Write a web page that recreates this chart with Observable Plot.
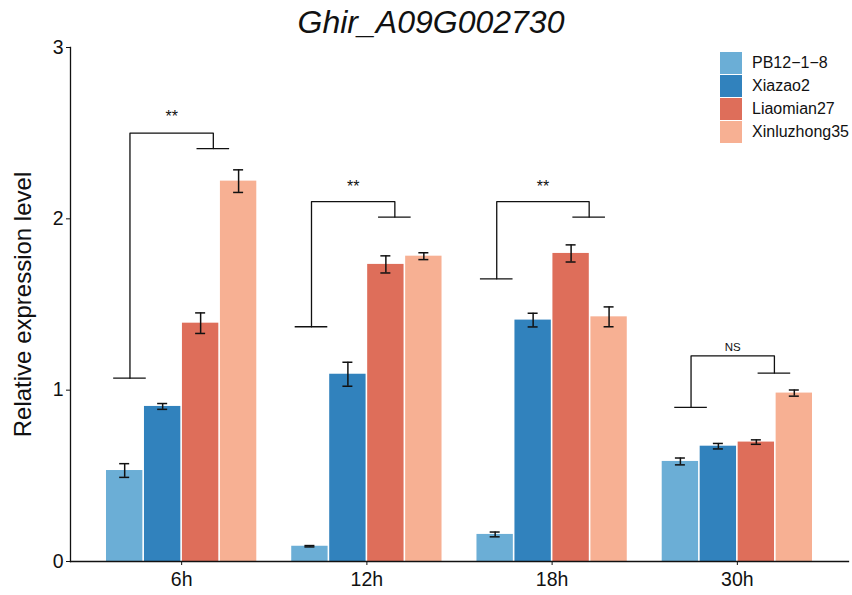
<!DOCTYPE html>
<html><head><meta charset="utf-8">
<script src="https://cdn.jsdelivr.net/npm/d3@7"></script>
<script src="https://cdn.jsdelivr.net/npm/@observablehq/plot@0.6"></script>
<style>
body{margin:0;background:#fff;font-family:"Liberation Sans",Arial,sans-serif;}
#wrap{position:relative;width:852px;height:595px;overflow:hidden;}
#title{height:40px;line-height:44px;font-size:32px;font-style:italic;text-align:center;padding-left:10px;color:#111;}
#legend{position:absolute;left:720px;top:51px;}
.row{display:flex;align-items:center;height:23px;}
.sw{width:22px;height:22px;margin-right:10px;}
.lab{font-size:16px;color:#111;}
</style></head><body>
<div id="wrap"><div id="title">Ghir_A09G002730</div><div id="chart"></div><div id="legend"></div></div>
<script>
// ---- data ----
const times = ["6h", "12h", "18h", "30h"];
const genotypes = ["PB12\u22121\u22128", "Xiazao2", "Liaomian27", "Xinluzhong35"];
const colors = ["#6BAED6", "#3182BD", "#DE6E5A", "#F7B093"];

const pb12 = [0.531, 0.089, 0.158, 0.584];
const xiazao2 = [0.905, 1.093, 1.409, 0.673];
const liaomian27 = [1.391, 1.734, 1.798, 0.697];
const xinluzhong35 = [2.220, 1.782, 1.428, 0.983];

const pb12Err = [0.040, 0.004, 0.014, 0.020];
const xiazao2Err = [0.017, 0.070, 0.040, 0.016];
const liaomian27Err = [0.060, 0.050, 0.050, 0.013];
const xinluzhong35Err = [0.066, 0.020, 0.058, 0.018];

// significance brackets (x offsets relative to group centre, in group units)
const bracketLeftX = [-0.279, -0.299, -0.299, -0.250];
const bracketRightX = [0.171, 0.151, 0.200, 0.200];
const bracketLeftY = [1.07, 1.37, 1.65, 0.90];
const bracketTopY = [2.50, 2.10, 2.10, 1.20];
const bracketRightY = [2.41, 2.01, 2.01, 1.10];
const bracketLabels = ["**", "**", "**", "NS"];
const bracketLabelY = [2.593, 2.189, 2.189, 1.251];

const yTicks = [0, 1, 2, 3];

// ---- build tables ----
const values = [pb12, xiazao2, liaomian27, xinluzhong35];
const errors = [pb12Err, xiazao2Err, liaomian27Err, xinluzhong35Err];
const groupWidth = 0.82;
const barW = groupWidth / genotypes.length;
const capHalf = 0.027;
const hookHalf = 0.088;

const rows = [];
times.forEach((t, ti) => genotypes.forEach((g, gi) => {
  const x1 = ti - groupWidth / 2 + gi * barW;
  rows.push({time: t, genotype: g, value: values[gi][ti], err: errors[gi][ti],
             x1, x2: x1 + barW, xc: x1 + barW / 2});
}));

const bracketPts = [];
const hooks = [];
const labels = [];
times.forEach((t, ti) => {
  const L = ti + bracketLeftX[ti], R = ti + bracketRightX[ti];
  bracketPts.push({time: t, x: L, y: bracketLeftY[ti]}, {time: t, x: L, y: bracketTopY[ti]},
                  {time: t, x: R, y: bracketTopY[ti]}, {time: t, x: R, y: bracketRightY[ti]});
  hooks.push({xc: L, y: bracketLeftY[ti]}, {xc: R, y: bracketRightY[ti]});
  labels.push({x: (L + R) / 2, y: bracketLabelY[ti], text: bracketLabels[ti]});
});

const chart = Plot.plot({
  width: 852,
  height: 555,
  marginTop: 7,
  marginBottom: 34,
  marginLeft: 70,
  marginRight: 4,
  style: {fontFamily: "'Liberation Sans', Arial, sans-serif", color: "#111", overflow: "visible", background: "white"},
  x: {domain: [-0.6, 3.6], axis: null},
  y: {domain: [0, 3], axis: null},
  color: {domain: genotypes, range: colors},
  marks: [
    Plot.rectY(rows, {x1: "x1", x2: "x2", y1: 0, y2: "value", fill: "genotype", insetLeft: 0.8, insetRight: 0.8}),
    Plot.ruleX(rows, {x: "xc", y1: d => d.value - d.err, y2: d => d.value + d.err, stroke: "#111", strokeWidth: 1.5}),
    Plot.ruleY(rows, {y: d => d.value + d.err, x1: d => d.xc - capHalf, x2: d => d.xc + capHalf, stroke: "#111", strokeWidth: 1.5}),
    Plot.ruleY(rows, {y: d => d.value - d.err, x1: d => d.xc - capHalf, x2: d => d.xc + capHalf, stroke: "#111", strokeWidth: 1.5}),
    Plot.line(bracketPts, {x: "x", y: "y", z: "time", stroke: "#111", strokeWidth: 1.3, curve: "linear"}),
    Plot.ruleY(hooks, {y: "y", x1: d => d.xc - hookHalf, x2: d => d.xc + hookHalf, stroke: "#111", strokeWidth: 1.3}),
    Plot.text(labels, {x: "x", y: "y", text: "text", fontSize: d => d.text === "NS" ? 11.5 : 16, fill: "#111", lineAnchor: "middle"}),
    Plot.frame({anchor: "left", stroke: "#111", strokeWidth: 1.3}),
    Plot.frame({anchor: "bottom", stroke: "#111", strokeWidth: 1.3}),
    Plot.axisY({ticks: yTicks, tickFormat: d => String(d), tickSize: 4, tickPadding: 3, fontSize: 19.5, label: null, stroke: "#111"}),
    Plot.axisX({ticks: [0, 1, 2, 3], tickFormat: i => times[i], tickSize: 4, tickPadding: 7, fontSize: 19.5, label: null, stroke: "#111"}),
    Plot.text(["Relative expression level"], {frameAnchor: "left", textAnchor: "middle", rotate: -90, dx: -47, dy: 0, fontSize: 24, fill: "#111"})
  ]
});
document.getElementById("chart").appendChild(chart);

const legend = document.getElementById("legend");
genotypes.forEach((g, i) => {
  const row = document.createElement("div");
  row.className = "row";
  row.innerHTML = `<div class="sw" style="background:${colors[i]}"></div><div class="lab">${g}</div>`;
  legend.appendChild(row);
});
</script>
</body></html>
